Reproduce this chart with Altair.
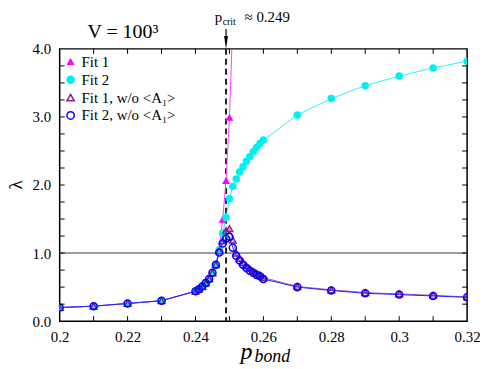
import altair as alt
import pandas as pd

p_bond = [0.20, 0.21, 0.22, 0.23, 0.24, 0.241, 0.242, 0.243, 0.244, 0.245, 0.246,
          0.247, 0.248, 0.249, 0.250, 0.251, 0.252, 0.253, 0.254, 0.255, 0.256,
          0.257, 0.258, 0.259, 0.260, 0.27, 0.28, 0.29, 0.30, 0.31, 0.32]
low = [0.20, 0.22, 0.26, 0.30, 0.44, 0.47, 0.51, 0.56, 0.62, 0.71, 0.83]
fit1 = low + [1.06, 1.49, 2.06, 2.99, 4.40]
fit2 = low + [1.05, 1.29, 1.52, 1.80, 1.98, 2.09, 2.19, 2.27, 2.35, 2.42, 2.49,
              2.55, 2.61, 2.66, 3.03, 3.27, 3.46, 3.60, 3.72, 3.82]
fit1_wo = low + [1.03, 1.18, 1.33, 1.36, 1.19, 1.00, 0.92, 0.86, 0.81, 0.77, 0.73,
                 0.70, 0.68, 0.64, 0.51, 0.46, 0.42, 0.40, 0.38, 0.355]
fit2_wo = low + [1.01, 1.14, 1.21, 1.24, 1.08, 0.96, 0.89, 0.83, 0.78, 0.74, 0.71,
                 0.68, 0.66, 0.62, 0.50, 0.45, 0.41, 0.39, 0.37, 0.35]

series = ["Fit 1", "Fit 2", "Fit 1, w/o <A\u2081>", "Fit 2, w/o <A\u2081>"]
values = [fit1, fit2, fit1_wo, fit2_wo]
stroke_colors = ["#ff00ff", "#00f0f0", "#8b1a8b", "#0000ff"]
fill_colors = ["#ff00ff", "#00f0f0", "transparent", "transparent"]
line_colors = ["#ff40ff", "#30f0f0", "#b050c0", "#2020ff"]
shapes = ["triangle-up", "circle", "triangle-up", "circle"]
sizes = [30, 50, 55, 60]

x_labels = [0.2, 0.22, 0.24, 0.26, 0.28, 0.3, 0.32]
y_labels = [0.0, 0.5, 1.0, 1.5, 2.0, 2.5, 3.0, 3.5, 4.0]
x_ticks = [round(0.2 + 0.01 * i, 2) for i in range(1, 12)]
y_ticks = [0.25 * i for i in range(1, 16)]
p_crit = 0.249
ref_level = 1.0

rows = []
for s, vals in zip(series, values):
    for xv, yv in zip(p_bond, vals):
        rows.append({"p": xv, "lam": yv, "series": s})
df = pd.DataFrame(rows)

W, H = 410, 274
FONT = "Liberation Serif"

xs = alt.Scale(domain=[0.2, 0.32], nice=False, zero=False)
ys = alt.Scale(domain=[0, 4], nice=False, zero=False)
xax = alt.Axis(values=x_labels, format="~g", title=None, labelPadding=8, labelFlush=False)
yax = alt.Axis(values=y_labels, format=".1f", title=None, labelPadding=9, labelFlush=False)

base = alt.Chart(df)

lines = base.mark_line(clip=True, strokeWidth=1).encode(
    x=alt.X("p:Q", scale=xs, axis=xax),
    y=alt.Y("lam:Q", scale=ys, axis=yax),
    color=alt.Color("series:N", scale=alt.Scale(domain=series, range=line_colors), legend=None),
)

points = base.mark_point(clip=True, opacity=1, strokeWidth=1.5).encode(
    x=alt.X("p:Q", scale=xs),
    y=alt.Y("lam:Q", scale=ys),
    shape=alt.Shape("series:N", scale=alt.Scale(domain=series, range=shapes), legend=None),
    stroke=alt.Stroke("series:N", scale=alt.Scale(domain=series, range=stroke_colors), legend=None),
    fill=alt.Fill("series:N", scale=alt.Scale(domain=series, range=fill_colors), legend=None),
    size=alt.Size("series:N", scale=alt.Scale(domain=series, range=sizes), legend=None),
    order=alt.Order("idx:Q"),
).transform_window(idx="row_number()")

hline = alt.Chart(pd.DataFrame({"lam": [ref_level]})).mark_rule(
    color="#7a7a7a", strokeWidth=1.5).encode(y=alt.Y("lam:Q", scale=ys))

crit_df = pd.DataFrame({"p": [p_crit]})
vline = alt.Chart(crit_df).mark_rule(color="#222222", strokeWidth=2, strokeDash=[6, 4]).encode(
    x=alt.X("p:Q", scale=xs), y=alt.value(0), y2=alt.value(H))
arrow = alt.Chart(crit_df).mark_rule(color="black", strokeWidth=1.2).encode(
    x=alt.X("p:Q", scale=xs), y=alt.value(-20), y2=alt.value(-6))
arrow_head = alt.Chart(crit_df).mark_point(
    shape="M-0.3,-1L0.3,-1L0,1Z", filled=True, color="black", opacity=1, size=170).encode(
    x=alt.X("p:Q", scale=xs), y=alt.value(-6.5))

xt = pd.DataFrame({"p": x_ticks})
yt = pd.DataFrame({"lam": y_ticks})
tick_len = 5
tb = alt.Chart(xt).mark_rule(color="black", strokeWidth=1).encode(
    x=alt.X("p:Q", scale=xs), y=alt.value(H), y2=alt.value(H - tick_len))
tt = alt.Chart(xt).mark_rule(color="black", strokeWidth=1).encode(
    x=alt.X("p:Q", scale=xs), y=alt.value(0), y2=alt.value(tick_len))
tl = alt.Chart(yt).mark_rule(color="black", strokeWidth=1).encode(
    y=alt.Y("lam:Q", scale=ys), x=alt.value(0), x2=alt.value(tick_len))
tr = alt.Chart(yt).mark_rule(color="black", strokeWidth=1).encode(
    y=alt.Y("lam:Q", scale=ys), x=alt.value(W), x2=alt.value(W - tick_len))

def txt(s, x, y, size, align="left", angle=0, style="normal", baseline="alphabetic"):
    return alt.Chart(pd.DataFrame({"t": [s]})).mark_text(
        font=FONT, fontSize=size, align=align, baseline=baseline, angle=angle,
        fontStyle=style, color="black").encode(
        x=alt.value(x), y=alt.value(y), text="t:N")

# legend (manual, inside top-left)
legend_layers = []
for i, s in enumerate(series):
    yy = 13 + 18 * i
    legend_layers.append(
        alt.Chart(pd.DataFrame({"s": [s]})).mark_point(
            shape=shapes[i], stroke=stroke_colors[i], fill=fill_colors[i],
            strokeWidth=1.5, opacity=1, size=[30, 50, 55, 55][i]).encode(
            x=alt.value(11), y=alt.value(yy)))
    legend_layers.append(txt(s, 22, yy + 5, 15))

title = txt("V = 100\u00b3", 28, -11, 20)
pc_p = txt("p", 156, -27, 15)
pc_sub = txt("crit", 164, -24, 10)
pc_val = txt("\u2248 0.249", 186, -27, 15)
xl_p = txt("p", 182, 312, 24, style="italic")
xl_sub = txt("bond", 196, 315, 18, style="italic")
yl = txt("\u03bb", -44, H / 2, 19, align="center", angle=270, baseline="middle")

chart = alt.layer(
    hline, vline, lines, points, tb, tt, tl, tr, arrow, arrow_head,
    *legend_layers,
    title, pc_p, pc_sub, pc_val, xl_p, xl_sub, yl
).properties(
    width=W, height=H,
    autosize=alt.AutoSizeParams(type="none"),
    padding={"left": 52, "top": 40, "right": 16, "bottom": 46},
).configure_view(
    stroke="black", strokeWidth=1.5
).configure_axis(
    domain=False, ticks=False, grid=False,
    labelFont=FONT, labelFontSize=15, labelColor="black",
)

chart.save("out.html", embed_options={"renderer": "svg", "actions": False})
